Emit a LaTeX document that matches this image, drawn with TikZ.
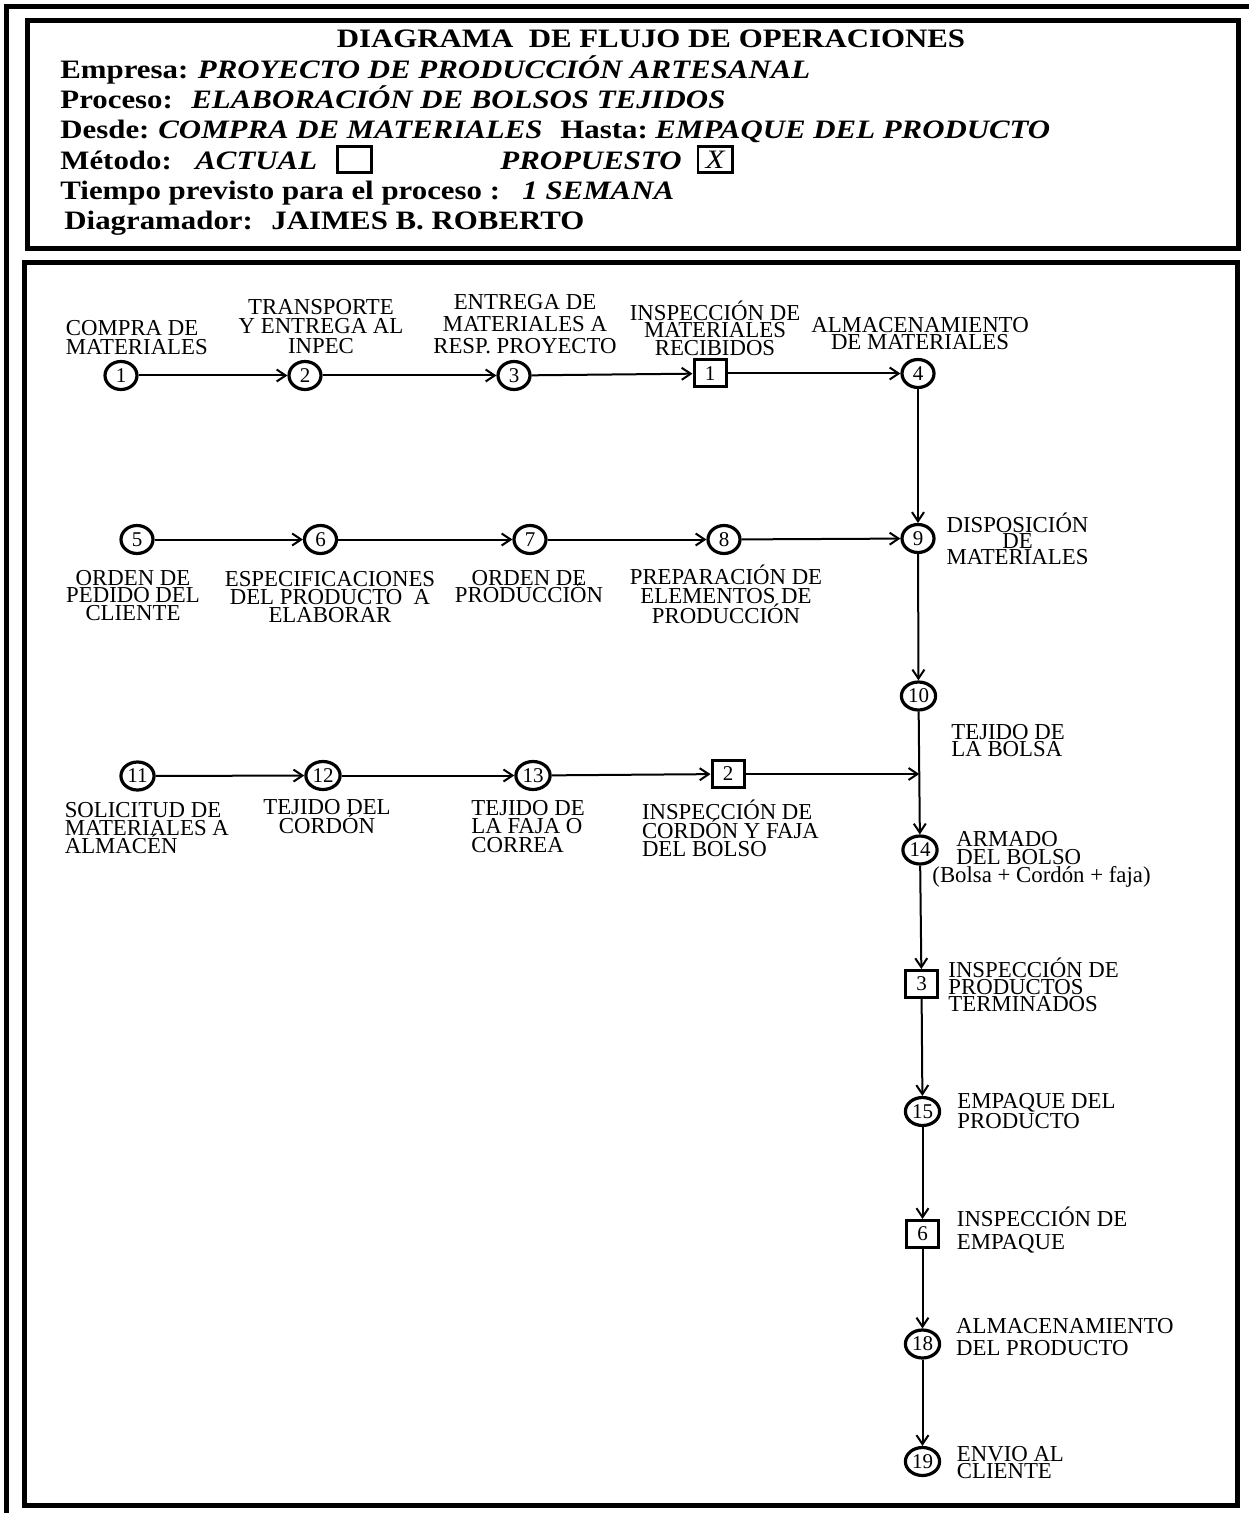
\documentclass[tikz,border=0pt]{standalone}
\usepackage{fontspec}
\setmainfont{Liberation Serif}
\newfontfamily\hdfont[FakeStretch=1.16]{Liberation Serif}
\usetikzlibrary{arrows.meta, shapes.geometric}

\begin{document}
\begin{tikzpicture}[x=0.5pt, y=-0.5pt,
    frame/.style={line width=2.5pt},
    hd/.style={inner sep=0pt, anchor=base west, font=\hdfont\fontsize{13.3}{14}\selectfont\bfseries},
    hdit/.style={hd, font=\hdfont\fontsize{13.3}{14}\selectfont\bfseries\itshape},
    chk/.style={draw, line width=1.3pt, inner sep=0pt, minimum width=17.2pt, minimum height=13.2pt},
    opnode/.style={draw, ellipse, line width=1.6pt, inner xsep=0.8pt, inner ysep=0pt,
      minimum width=16pt, minimum height=14pt, font=\fontsize{10.5}{10.5}\selectfont},
    insnode/.style={draw, rectangle, line width=1.5pt, inner sep=0pt,
      minimum width=16pt, minimum height=13.5pt, font=\fontsize{10.5}{10.5}\selectfont},
    flow/.style={line width=1pt, -{Straight Barb[length=4.5pt, width=6pt]}},
    lbl/.style={inner sep=0pt, font={\fontsize{11.4}{#1}\selectfont\lineskiplimit=-20pt\relax}},
    lbl/.default=9.5]
  \useasboundingbox (0,0) rectangle (1249,1513);
  % Frames
  \draw[frame] (6.5,1513) -- (6.5,7) -- (1249,7);
  \draw[frame] (27,20.5) rectangle (1238.5,249);
  \draw[frame] (24.7,263) rectangle (1237,1505.5);
  % Header
  \node[hd, anchor=base] (hdtitle) at (651,48) {DIAGRAMA\ \ DE FLUJO DE OPERACIONES};
  \node[hd] (hdempresa) at (60,79) {Empresa:};
  \node[hdit] (hdempresav) at (197.5,79) {PROYECTO DE PRODUCCIÓN ARTESANAL};
  \node[hd] (hdproceso) at (60,108.5) {Proceso:};
  \node[hdit] (hdprocesov) at (191,108.5) {ELABORACIÓN DE BOLSOS TEJIDOS};
  \node[hd] (hddesde) at (60,139) {Desde:};
  \node[hdit] (hddesdev) at (158,139) {COMPRA DE MATERIALES};
  \node[hd] (hdhasta) at (560,139) {Hasta:};
  \node[hdit] (hdhastav) at (655,139) {EMPAQUE DEL PRODUCTO};
  \node[hd] (hdmetodo) at (60,170) {Método:};
  \node[hdit] (hdactual) at (195,170) {ACTUAL};
  \node[chk] (boxactual) at (354.5,159.5) {};
  \node[hdit] (hdpropuesto) at (500,170) {PROPUESTO};
  \node[chk, font=\hdfont\fontsize{13.3}{14}\selectfont\itshape] (boxpropuesto) at (715,159.5) {X};
  \node[hd] (hdtiempo) at (60,200) {Tiempo previsto para el proceso :};
  \node[hdit] (hdtiempov) at (522,200) {1 SEMANA};
  \node[hd] (hddiagramador) at (64,230) {Diagramador:};
  \node[hd] (hddiagramadorv) at (271,230) {JAIMES B. ROBERTO};
  % Operations (circles) and inspections (squares)
  \foreach \n/\x/\y/\t in {c1/121/375.5/1, c2/305/375.5/2, c3/514/375.5/3, c4/918/373.5/4,
      c5/137/539.5/5, c6/320.5/539.5/6, c7/530/539.5/7, c8/724/539.5/8, c9/918/538.5/9,
      c10/918.5/696/10, c11/137.5/776/11, c12/323/775.5/12, c13/533/775.5/13,
      c14/920/850/14, c15/922.5/1111.5/15, c18/922.5/1344/18, c19/922.5/1461.5/19}
    \node[opnode] (\n) at (\x,\y) {\t};
  \foreach \n/\x/\y/\t in {i1/710/373.5/1, i2/728/774/2, i3/921.5/984/3, i6/922.5/1234/6}
    \node[insnode] (\n) at (\x,\y) {\t};
  % Flow
  \foreach \a/\b in {c1/c2, c2/c3, c3/i1, i1/c4, c5/c6, c6/c7, c7/c8, c8/c9,
      c11/c12, c12/c13, c13/i2, c4/c9, c9/c10, c10/c14, c14/i3, i3/c15,
      c15/i6, i6/c18, c18/c19}
    \draw[flow] (\a) -- (\b);
  \coordinate (jn) at (919.3,774);
  \draw[flow] (i2) -- (jn);
  % Labels, first row
  \node[lbl=9.5, anchor=west, align=left] (tc1) at (65.5,337.2) {COMPRA DE\\MATERIALES};
  \node[lbl=9.8, align=center] (tc2) at (321,326.4) {TRANSPORTE\\Y ENTREGA AL\\INPEC};
  \node[lbl=11, align=center] (tc3) at (525,323.7) {ENTREGA DE\\MATERIALES A\\RESP. PROYECTO};
  \node[lbl=8.75, align=center] (ti1) at (715,328.2) {INSPECCIÓN DE\\MATERIALES\\RECIBIDOS};
  \node[lbl=8.65, align=center] (tc4) at (920,333.7) {ALMACENAMIENTO\\DE MATERIALES};
  % Labels, second row
  \node[lbl=8.75, align=center] (tc5) at (133,595.2) {ORDEN DE\\PEDIDO DEL\\CLIENTE};
  \node[lbl=9, align=center] (tc6) at (330,597) {ESPECIFICACIONES\\DEL PRODUCTO\ \ A\\ELABORAR};
  \node[lbl=8.65, align=center] (tc7) at (529,586.3) {ORDEN DE\\PRODUCCIÓN};
  \node[lbl=9.6, align=center] (tc8) at (726,594.2) {PREPARACIÓN DE\\ELEMENTOS DE\\PRODUCCIÓN};
  \node[lbl=8, align=center] (tc9) at (1017.5,539.2) {DISPOSICIÓN\\DE\\MATERIALES};
  \node[lbl=8.8, anchor=west, align=left] (tc10) at (951,740.5) {TEJIDO DE\\LA BOLSA};
  % Labels, third row
  \node[lbl=8.9, anchor=west, align=left] (tc11) at (64.4,828) {SOLICITUD DE\\MATERIALES A\\ALMACÉN};
  \node[lbl=9.65, align=center] (tc12) at (327,816.4) {TEJIDO DEL\\CORDÓN};
  \node[lbl=9.35, anchor=west, align=left] (tc13) at (471,826.4) {TEJIDO DE\\LA FAJA O\\CORREA};
  \node[lbl=9.15, anchor=west, align=left] (ti2) at (641.6,828.4) {INSPECCIÓN DE\\CORDÓN Y FAJA\\DEL BOLSO};
  % Labels, right column
  \node[lbl=8.9, anchor=west, align=left] (tc14) at (932,859.5)
    {\hspace*{12pt}ARMADO\\\hspace*{12pt}DEL BOLSO\\(Bolsa + Cordón + faja)};
  \node[lbl=8.35, anchor=west, align=left] (ti3) at (948,985) {INSPECCIÓN DE\\PRODUCTOS\\TERMINADOS};
  \node[lbl=10.15, anchor=west, align=left] (tc15) at (957,1110.8) {EMPAQUE DEL\\PRODUCTO};
  \node[lbl=11.35, anchor=west, align=left] (ti6) at (956.5,1229.7) {INSPECCIÓN DE\\EMPAQUE};
  \node[lbl=11.15, anchor=west, align=left] (tc18) at (955.7,1337.2) {ALMACENAMIENTO\\DEL PRODUCTO};
  \node[lbl=8.5, anchor=west, align=left] (tc19) at (956.5,1462.5) {ENVIO AL\\CLIENTE};
\end{tikzpicture}
\end{document}
